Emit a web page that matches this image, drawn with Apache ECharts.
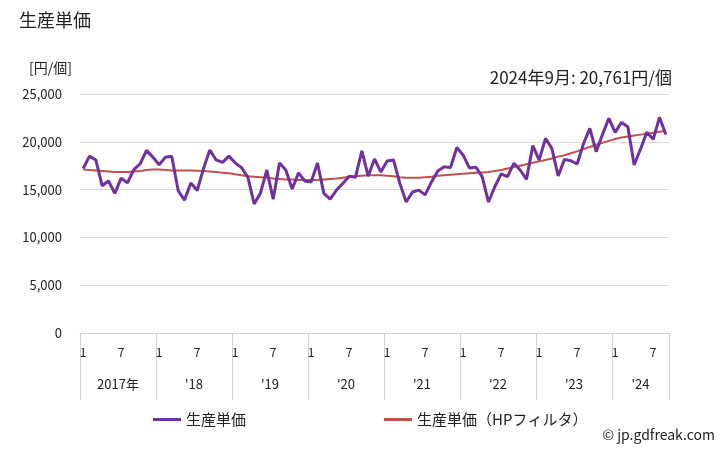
<!DOCTYPE html>
<html><head><meta charset="utf-8">
<script src="https://cdn.jsdelivr.net/npm/echarts@6/dist/echarts.min.js"></script>
<style>html,body{margin:0;padding:0;background:#fff}#c{width:728px;height:450px}</style>
</head><body><div id="c"></div>
<script>
const yearLabels = ['2017年', "'18", "'19", "'20", "'21", "'22", "'23", "'24"];
const monthsPerYear = [12, 12, 12, 12, 12, 12, 12, 9];
const yTicks = [0, 5000, 10000, 15000, 20000, 25000];

const unitPrice = [
  17200, 18500, 18100, 15400, 15900, 14600, 16200, 15700, 17100, 17700, 19100, 18400,
  17600, 18400, 18450, 14900, 13900, 15700, 14900, 17200, 19150, 18100, 17850, 18500,
  17800, 17300, 16300, 13500, 14650, 17050, 14000, 17780, 17050, 15060, 16750, 15900,
  15800, 17780, 14600, 14000, 14950, 15650, 16400, 16300, 19050, 16400, 18200, 16850,
  18000, 18100, 15650, 13700, 14750, 14950, 14450, 15800, 16950, 17400, 17300, 19400,
  18600, 17250, 17350, 16350, 13700, 15300, 16650, 16350, 17750, 17050, 16070, 19600,
  18090, 20360, 19310, 16420, 18160, 18020, 17680, 19800, 21410, 18970, 20760, 22450,
  20990, 22030, 21580, 17570, 19230, 20990, 20260, 22560, 20761
];
const hpTrend = [
  17100, 17050, 17000, 16950, 16900, 16850, 16850, 16850, 16900, 16950, 17050, 17100,
  17100, 17050, 17000, 17000, 17000, 17000, 16980, 16950, 16900, 16850, 16750, 16700,
  16600, 16500, 16400, 16350, 16300, 16250, 16150, 16100, 16050, 16050, 16000, 16000,
  16000, 16000, 16050, 16100, 16150, 16250, 16350, 16400, 16450, 16500, 16500, 16500,
  16450, 16400, 16300, 16250, 16250, 16250, 16300, 16350, 16450, 16500, 16550, 16600,
  16650, 16700, 16750, 16800, 16850, 16950, 17050, 17200, 17350, 17500, 17650, 17800,
  17950, 18100, 18250, 18450, 18600, 18800, 19000, 19250, 19450, 19700, 19900, 20100,
  20300, 20450, 20550, 20650, 20750, 20850, 20950, 21050, 21150
];

const categories = [];
const monthOf = [];
monthsPerYear.forEach((n, yi) => {
  for (let m = 1; m <= n; m++) { categories.push((2017 + yi) + '/' + m); monthOf.push(m); }
});
const total = categories.length;
const yearCentres = [];
let acc = 0;
monthsPerYear.forEach(n => { yearCentres.push(acc + n / 2); acc += n; });

const FONT = '"Noto Sans CJK JP", "Noto Sans", sans-serif';
const chart = echarts.init(document.getElementById('c'));
chart.setOption({
  animation: false,
  textStyle: { fontFamily: FONT },
  title: { text: '生産単価', left: 14, top: 6, textStyle: { fontSize: 18, fontWeight: 'normal', color: '#222', fontFamily: FONT } },
  legend: {
    left: 148, top: 407, itemGap: 138, itemWidth: 28, itemHeight: 3, icon: 'rect',
    textStyle: { fontSize: 15, color: '#222', fontFamily: FONT },
    data: ['生産単価', '生産単価（HPフィルタ）']
  },
  grid: { left: 80, right: 59, top: 94, bottom: 117, containLabel: false },
  xAxis: [{
    type: 'category', data: categories, boundaryGap: true,
    axisLine: { lineStyle: { color: '#d0d0d0' } },
    axisTick: { show: true, interval: (i) => monthOf[i] === 1, length: 67, lineStyle: { color: '#d0d0d0' } },
    axisLabel: { interval: (i) => monthOf[i] === 1 || monthOf[i] === 7, formatter: (v, i) => String(monthOf[i]), color: '#222', fontSize: 12, margin: 13, fontFamily: FONT },
    splitLine: { show: false }
  }, {
    type: 'value', position: 'bottom', min: 0, max: total, interval: 1.5,
    axisLine: { show: false }, axisTick: { show: false }, splitLine: { show: false },
    axisLabel: {
      margin: 45, color: '#222', fontSize: 13, fontFamily: FONT, showMinLabel: true, showMaxLabel: true,
      formatter: (v) => { const i = yearCentres.findIndex(c => Math.abs(c - v) < 0.01); return i >= 0 ? yearLabels[i] : ''; }
    }
  }],
  yAxis: {
    type: 'value', min: yTicks[0], max: yTicks[yTicks.length - 1], interval: 5000,
    axisLine: { show: false }, axisTick: { show: false },
    splitLine: { lineStyle: { color: '#d9d9d9' } },
    axisLabel: { color: '#222', fontSize: 13, margin: 18, fontFamily: FONT, formatter: (v) => v.toLocaleString('en-US') }
  },
  graphic: [
    { type: 'text', left: 29, top: 61, style: { text: '[円/個]', font: '14px ' + FONT, fill: '#222' } },
    { type: 'text', right: 56, top: 69, style: { text: '2024年9月: 20,761円/個', font: '17px ' + FONT, fill: '#222' } },
    { type: 'text', right: 13, top: 428, style: { text: '© jp.gdfreak.com', font: '14px ' + FONT, fill: '#222' } }
  ],
  series: [
    { name: '生産単価（HPフィルタ）', type: 'line', data: hpTrend, showSymbol: false, symbol: 'none', lineStyle: { width: 2, color: '#c0504d' }, itemStyle: { color: '#c0504d' }, z: 2 },
    { name: '生産単価', type: 'line', data: unitPrice, showSymbol: false, symbol: 'none', lineStyle: { width: 3, color: '#7030a0' }, itemStyle: { color: '#7030a0' }, z: 3 }
  ]
});
</script></body></html>
